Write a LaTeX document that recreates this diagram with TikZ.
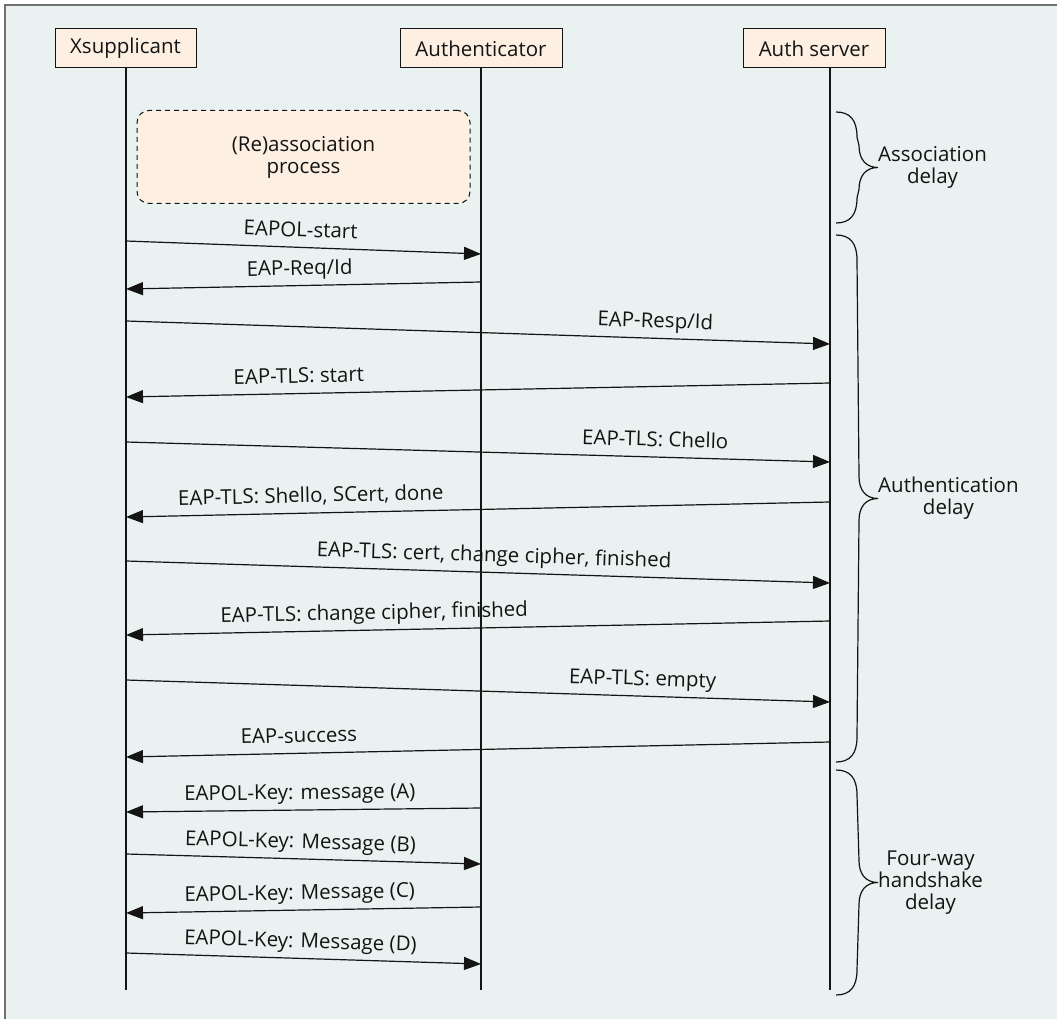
\documentclass[tikz,border=0pt]{standalone}
\usepackage{fontspec}
\setmainfont{Open Sans}
\usetikzlibrary{arrows.meta}
\definecolor{bgpanel}{HTML}{E9F2F1}
\definecolor{boxfill}{HTML}{FDF0E2}
\definecolor{framegray}{HTML}{707070}
\definecolor{ink}{HTML}{141414}

% curly brace beside the server lifeline, with its caption at the tip
\newcommand\delaybrace[4]{%
  \pgfmathsetmacro\bt{#2}\pgfmathsetmacro\bb{#3}\pgfmathsetmacro\bm{(#2+#3)/2}%
  \coordinate (#1-tip) at (878,\bm);
  \draw[brace] (836,\bt) .. controls (850,\bt) and (857,\bt+8) .. (857,\bt+25)
    -- (859,\bm-22) .. controls (859,\bm-8) and (866,\bm) .. (#1-tip)
    .. controls (866,\bm) and (859,\bm+8) .. (859,\bm+22)
    -- (857,\bb-25) .. controls (857,\bb-8) and (850,\bb) .. (836,\bb);
  \node[caption] (#1) at (#1-tip) {#4};
}

\begin{document}
\begin{tikzpicture}[x=1pt,y=-1pt,
  every node/.style={font=\fontsize{20.5}{22}\selectfont, text=ink},
  actor/.style={draw=ink, line width=1pt, fill=boxfill, minimum height=39pt, inner sep=0pt},
  life/.style={draw=ink, line width=1.2pt},
  msg/.style={draw=ink, line width=1.2pt, -{Triangle[length=17pt,width=13pt]}},
  lbl/.style={sloped, above=10pt, inner sep=0pt, text depth=0pt},
  brace/.style={draw=ink, line width=1.2pt},
  caption/.style={anchor=west, align=center, inner sep=0pt},
]
\useasboundingbox (0,0) rectangle (1057,1019);
\fill[bgpanel] (5,5) rectangle (1057,1019);
\draw[framegray, line width=2pt] (5,1019) -- (5,5) -- (1057,5);

% participants
\node[actor, minimum width=141pt] (xs) at (125.5,48.5) {Xsupplicant};
\node[actor, minimum width=162pt] (au) at (481,48.5) {Authenticator};
\node[actor, minimum width=142pt] (as) at (814,48.5) {Auth server};

% lifelines
\coordinate (xsTop) at (126,68);  \coordinate (xsBot) at (126,990);
\coordinate (auTop) at (481,68);  \coordinate (auBot) at (481,990);
\coordinate (asTop) at (830,68);  \coordinate (asBot) at (830,990);
\draw[life] (xsTop) -- (xsBot);
\draw[life] (auTop) -- (auBot);
\draw[life] (asTop) -- (asBot);

% association phase
\node[draw=ink, line width=1pt, dash pattern=on 5pt off 4pt, rounded corners=12pt,
      fill=boxfill, minimum width=333pt, minimum height=93pt, align=center]
      (assoc) at (303.5,157) {(Re)association\\process};

% message end points on the lifelines
\coordinate (m1s) at (126,241);  \coordinate (m1e) at (481,254);
\coordinate (m2s) at (481,282);  \coordinate (m2e) at (126,289);
\coordinate (m3s) at (126,321);  \coordinate (m3e) at (830,344);
\coordinate (m4s) at (830,383);  \coordinate (m4e) at (126,397);
\coordinate (m5s) at (126,442);  \coordinate (m5e) at (830,462);
\coordinate (m6s) at (830,502);  \coordinate (m6e) at (126,517);
\coordinate (m7s) at (126,561);  \coordinate (m7e) at (830,583);
\coordinate (m8s) at (830,621);  \coordinate (m8e) at (126,635);
\coordinate (m9s) at (126,680);  \coordinate (m9e) at (830,702);
\coordinate (m10s) at (830,742); \coordinate (m10e) at (126,757);
\coordinate (m11s) at (481,808); \coordinate (m11e) at (126,812);
\coordinate (m12s) at (126,854); \coordinate (m12e) at (481,864);
\coordinate (m13s) at (481,907); \coordinate (m13e) at (126,913);
\coordinate (m14s) at (126,953); \coordinate (m14e) at (481,964);

% messages
\draw[msg] (m1s) -- node[lbl, pos=0.49] (l1) {EAPOL-start} (m1e);
\draw[msg] (m2s) -- node[lbl, pos=0.51] (l2) {EAP-Req/Id} (m2e);
\draw[msg] (m3s) -- node[lbl, pos=0.751] (l3) {EAP-Resp/Id} (m3e);
\draw[msg] (m4s) -- node[lbl, pos=0.754] (l4) {EAP-TLS: start} (m4e);
\draw[msg] (m5s) -- node[lbl, pos=0.751] (l5) {EAP-TLS: Chello} (m5e);
\draw[msg] (m6s) -- node[lbl, pos=0.737] (l6) {EAP-TLS: Shello, SCert, done} (m6e);
\draw[msg] (m7s) -- node[lbl, pos=0.522] (l7) {EAP-TLS: cert, change cipher, finished} (m7e);
\draw[msg] (m8s) -- node[lbl, pos=0.647] (l8) {EAP-TLS: change cipher, finished} (m8e);
\draw[msg] (m9s) -- node[lbl, pos=0.733] (l9) {EAP-TLS: empty} (m9e);
\draw[msg] (m10s) -- node[lbl, pos=0.754] (l10) {EAP-success} (m10e);
\draw[msg] (m11s) -- node[lbl, pos=0.51] (l11) {EAPOL-Key: message (A)} (m11e);
\draw[msg] (m12s) -- node[lbl, pos=0.49] (l12) {EAPOL-Key: Message (B)} (m12e);
\draw[msg] (m13s) -- node[lbl, pos=0.51] (l13) {EAPOL-Key: Message (C)} (m13e);
\draw[msg] (m14s) -- node[lbl, pos=0.49] (l14) {EAPOL-Key: Message (D)} (m14e);

% delay braces
\delaybrace{assocdelay}{112}{223}{Association\\delay}
\delaybrace{authdelay}{235}{762}{Authentication\\delay}
\delaybrace{hsdelay}{770}{995}{Four-way\\handshake\\delay}
\end{tikzpicture}
\end{document}
